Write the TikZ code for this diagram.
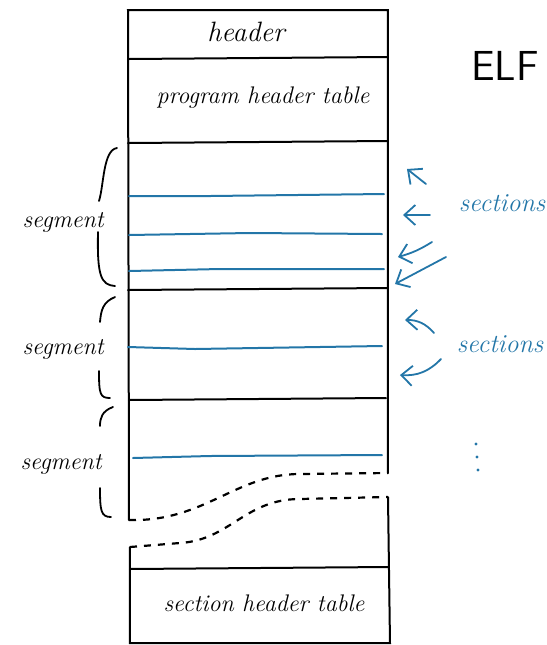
\documentclass[tikz,border=0pt]{standalone}
\usepackage{amsmath}
\usepackage{amssymb}
\usetikzlibrary{positioning,arrows.meta}

\definecolor{secblue}{RGB}{35,118,168}

\tikzset{
  wall/.style={line width=1pt, line cap=round},
  secline/.style={secblue, line width=1pt, line cap=round},
  cut/.style={line width=1.1pt, dash pattern=on 3.5pt off 3.5pt},
  bracepart/.style={line width=0.9pt, line cap=round},
  secarrow/.style={secblue, line width=0.9pt, line cap=round,
    -{Straight Barb[length=5.5pt,width=10pt,line width=0.9pt]}},
  lbl/.style={font=\itshape\fontsize{12}{14}\selectfont, inner sep=0pt},
  seclbl/.style={lbl, text=secblue, font=\itshape\fontsize{13}{15}\selectfont}
}

\begin{document}
\begin{tikzpicture}[x=0.5pt, y=-0.5pt]
\useasboundingbox (0,0) rectangle (547,645);

% box corners and the cut
\coordinate (tl) at (128,10);
\coordinate (tr) at (388,10);
\coordinate (lcut) at (129,520);
\coordinate (rcut) at (388,473);
\coordinate (rcut2) at (388,497);
\coordinate (lcut2) at (130,547);
\coordinate (bl) at (130,643);
\coordinate (br) at (390,643);

\draw[wall] (lcut) -- (tl) -- (tr) -- (rcut);
\draw[wall] (rcut2) -- (br) -- (bl) -- (lcut2);

% rows
\draw[wall] (128,59) -- (388,57);
\draw[wall] (128,143) -- (388,141);
\draw[wall] (128,290) -- (388,288);
\draw[wall] (129,400) -- (386,398);
\draw[wall] (130,569) -- (389,567);

% sections
\draw[secline] (129,196) -- (210,196) -- (384,194);
\draw[secline] (129,235) -- (250,233) -- (382,234);
\draw[secline] (129,271) -- (220,269) -- (384,269);
\draw[secline] (128,347) -- (195,349) -- (382,346);
\draw[secline] (133,458) -- (210,456) -- (382,455);

% the cut
\draw[cut] (lcut) .. controls (205,522) and (235,474) .. (300,474) -- (rcut);
\draw[cut] (lcut2) -- (180,543) .. controls (230,540) and (245,499) .. (300,499) -- (rcut2);

% texts in the box
\node[lbl, font=\itshape\fontsize{14}{16}\selectfont] (hdr) at (246,32) {header};
\node[lbl] (pht) at (263,98) {program header table};
\node[lbl] (sht) at (264,603) {section header table};
\node[font=\sffamily\fontsize{21}{24}\selectfont, inner sep=0pt] (elf) at (505,66) {ELF};

% segments
\node[lbl, anchor=east] (seg1) at (104,222) {segment};
\node[lbl, anchor=east] (seg2) at (104,349) {segment};
\node[lbl, anchor=east] (seg3) at (102,464) {segment};

\draw[bracepart] (117,148) .. controls (103,150) and (104,185) .. (99,201);
\draw[bracepart] (98,232) .. controls (97,276) and (101,285) .. (115,286);
\draw[bracepart] (115,297) .. controls (103,302) and (101,310) .. (100,322);
\draw[bracepart] (99,371) .. controls (99,394) and (100,398) .. (110,398);
\draw[bracepart] (113,407) .. controls (102,411) and (100,418) .. (100,426);
\draw[bracepart] (100,488) .. controls (100,511) and (101,517) .. (111,517);

% arrows to the sections
\node[seclbl] (secs1) at (502,203) {sections};
\node[seclbl] (secs2) at (500,344) {sections};

\coordinate (a1) at (426,184);
\coordinate (b1) at (407,169);
\coordinate (a2) at (430,215);
\coordinate (b2) at (403,215);
\coordinate (a3) at (432,242);
\coordinate (b3) at (398,257);
\coordinate (a4) at (446,257);
\coordinate (b4) at (395,284);
\coordinate (a5) at (434,333);
\coordinate (b5) at (405,320);
\coordinate (a6) at (441,359);
\coordinate (b6) at (400,375);

\draw[secarrow] (a1) -- (b1);
\draw[secarrow] (a2) -- (b2);
\draw[secarrow] (a3) to[bend left=8] (b3);
\draw[secarrow] (a4) -- (b4);
\draw[secarrow] (a5) to[bend right=25] (b5);
\draw[secarrow] (a6) to[bend left=25] (b6);

% more of them
\fill[secblue] (476,444) circle (1.6) (477,457) circle (1.6) (478,470) circle (1.6);
\end{tikzpicture}
\end{document}
